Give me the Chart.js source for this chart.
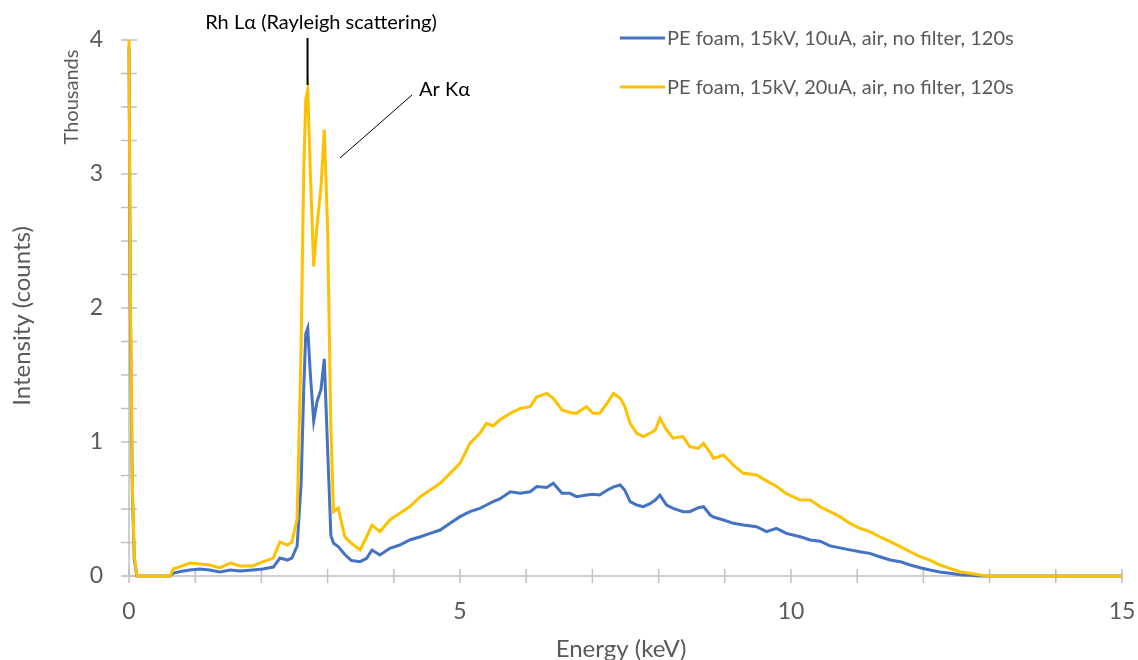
<!DOCTYPE html>
<html>
<head>
<meta charset="utf-8">
<script src="https://cdn.jsdelivr.net/npm/chart.js@4"></script>
<style>
html,body{margin:0;padding:0;background:#fff;}
#wrap{width:1138px;height:660px;position:relative;}
</style>
</head>
<body>
<div id="wrap"><canvas id="c" width="1138" height="660"></canvas></div>
<script>
// Energy grid (keV)
const energy = [0,0.02,0.05,0.08,0.12,0.3,0.62,0.67,0.8,0.92,1.07,1.22,1.37,1.53,1.68,1.87,2.02,2.18,2.28,2.39,2.46,2.54,2.6,2.64,2.67,2.7,2.74,2.79,2.84,2.9,2.95,3.0,3.05,3.09,3.16,3.26,3.36,3.49,3.59,3.67,3.79,3.94,4.09,4.24,4.4,4.55,4.7,4.85,5.0,5.15,5.3,5.4,5.5,5.6,5.76,5.91,6.06,6.16,6.31,6.41,6.54,6.66,6.76,6.91,7.01,7.11,7.22,7.32,7.42,7.49,7.57,7.67,7.77,7.87,7.95,8.02,8.12,8.22,8.37,8.47,8.6,8.68,8.78,8.83,8.98,9.13,9.28,9.48,9.63,9.78,9.93,10.14,10.29,10.44,10.59,10.74,10.89,11.04,11.19,11.34,11.5,11.65,11.8,11.95,12.1,12.25,12.4,12.55,12.7,12.85,13.0,14.0,15.0];
// PE foam, 15kV, 10uA (counts)
const counts10uA = [3950,2000,650,120,0,0,0,22,35,45,52,45,30,45,37,45,52,67,134,119,134,224,690,1400,1809,1850,1500,1158,1301,1393,1620,950,300,244,220,160,115,107,132,194,157,207,231,269,293,318,343,393,443,480,505,530,555,575,629,617,629,667,660,692,617,617,592,604,610,604,640,665,679,640,555,530,517,540,567,604,530,505,480,480,510,517,455,440,418,393,380,368,331,356,318,293,269,260,225,210,195,181,169,144,119,107,82,62,45,30,20,10,5,0,0,0,0];
// PE foam, 15kV, 20uA (counts)
const counts20uA = [4000,2200,700,150,0,0,0,52,75,97,90,82,60,97,75,75,105,134,254,231,254,429,1731,3033,3554,3630,3000,2310,2616,2903,3330,2600,1090,480,507,293,244,194,293,380,331,418,468,517,592,642,692,766,841,990,1065,1139,1120,1164,1214,1251,1264,1338,1363,1326,1239,1220,1214,1264,1214,1214,1289,1363,1326,1264,1139,1065,1040,1065,1090,1177,1090,1028,1040,965,953,990,920,878,903,828,766,754,710,670,615,567,567,517,480,443,393,356,331,293,256,219,181,144,119,82,57,32,20,7,0,0,0];
const seriesLabels = ['PE foam, 15kV, 10uA, air, no filter, 120s','PE foam, 15kV, 20uA, air, no filter, 120s'];
const seriesColors = ['#4472C4','#FFC000'];
const xTickValues = [0,5,10,15];
const yTickValues = [0,1000,2000,3000,4000];

const FONT = 'Lato, "Open Sans", sans-serif';
const GREY = '#595959';
const AXIS = '#BFBFBF';

function pts(vals){ return energy.map((e,i)=>({x:e,y:vals[i]})); }

const overlay = {
  id:'overlay',
  beforeDatasetsDraw(chart){
    const {ctx, scales:{x,y}} = chart;
    const x0 = x.getPixelForValue(0), y0 = y.getPixelForValue(0);
    ctx.save();
    ctx.strokeStyle = AXIS; ctx.lineWidth = 1.5;
    ctx.beginPath();
    ctx.moveTo(x0, y.getPixelForValue(4000)); ctx.lineTo(x0, y0);
    ctx.moveTo(x0, y0); ctx.lineTo(x.getPixelForValue(15), y0);
    ctx.stroke();
    ctx.beginPath();
    for(let v=0; v<=15; v++){ const px=x.getPixelForValue(v); ctx.moveTo(px,y0-7); ctx.lineTo(px,y0+7); }
    for(let v=0; v<=4000; v+=250){ const py=y.getPixelForValue(v); ctx.moveTo(x0-8,py); ctx.lineTo(x0+8,py); }
    ctx.stroke();
    ctx.restore();
  },
  afterDraw(chart){
    const {ctx, scales:{x,y}} = chart;
    ctx.save();
    ctx.fillStyle = GREY;
    ctx.textAlign='center'; ctx.textBaseline='middle';
    ctx.font = '24px ' + FONT;
    ctx.fillText('Energy (keV)', 621, 649);
    ctx.save(); ctx.translate(22, 316); ctx.rotate(-Math.PI/2); ctx.fillText('Intensity (counts)', 0, 0); ctx.restore();
    ctx.font = '20px ' + FONT;
    ctx.save(); ctx.translate(72, 97); ctx.rotate(-Math.PI/2); ctx.fillText('Thousands', 0, 0); ctx.restore();
    const ly = [38, 87];
    for(let i=0;i<2;i++){
      ctx.strokeStyle = seriesColors[i]; ctx.lineWidth = 3;
      ctx.beginPath(); ctx.moveTo(620, ly[i]); ctx.lineTo(665, ly[i]); ctx.stroke();
      ctx.fillStyle = GREY; ctx.font = '20px ' + FONT; ctx.textAlign='left';
      ctx.fillText(seriesLabels[i], 667, ly[i]+1);
    }
    ctx.fillStyle = '#000'; ctx.textAlign='center'; ctx.font = '20px ' + FONT;
    ctx.fillText('Rh Lα (Rayleigh scattering)', 321, 23);
    ctx.strokeStyle = '#000'; ctx.lineWidth = 2;
    const px = x.getPixelForValue(2.697);
    ctx.beginPath(); ctx.moveTo(px, 38); ctx.lineTo(px, 85); ctx.stroke();
    ctx.textAlign='left';
    ctx.fillText('Ar Kα', 419, 90);
    ctx.lineWidth = 1;
    ctx.beginPath(); ctx.moveTo(412, 95); ctx.lineTo(340, 158); ctx.stroke();
    ctx.restore();
  }
};

new Chart(document.getElementById('c'), {
  type:'line',
  data:{
    datasets:[
      {label:seriesLabels[0], data:pts(counts10uA), borderColor:seriesColors[0], borderWidth:3, pointRadius:0, tension:0, order:1, clip:false},
      {label:seriesLabels[1], data:pts(counts20uA), borderColor:seriesColors[1], borderWidth:3, pointRadius:0, tension:0, order:0, clip:false}
    ]
  },
  options:{
    responsive:false, animation:false, devicePixelRatio:1,
    layout:{padding:{top:40,right:0,bottom:0,left:0}},
    plugins:{legend:{display:false}, tooltip:{enabled:false}},
    scales:{
      x:{type:'linear', min:0, max:15,
        afterBuildTicks(s){ s.ticks = xTickValues.map(v=>({value:v})); },
        afterFit(s){ s.height = 84; s.paddingRight = 16; },
        grid:{display:false, drawTicks:false}, border:{display:false},
        ticks:{padding:22, color:GREY, font:{family:FONT, size:23}, maxRotation:0, autoSkip:false}
      },
      y:{type:'linear', min:0, max:4000,
        afterBuildTicks(s){ s.ticks = yTickValues.map(v=>({value:v})); },
        afterFit(s){ s.width = 129; },
        grid:{display:false, drawTicks:false}, border:{display:false},
        ticks:{padding:26, color:GREY, font:{family:FONT, size:23}, callback:v=>String(v/1000)}
      }
    }
  },
  plugins:[overlay]
});
</script>
</body>
</html>
